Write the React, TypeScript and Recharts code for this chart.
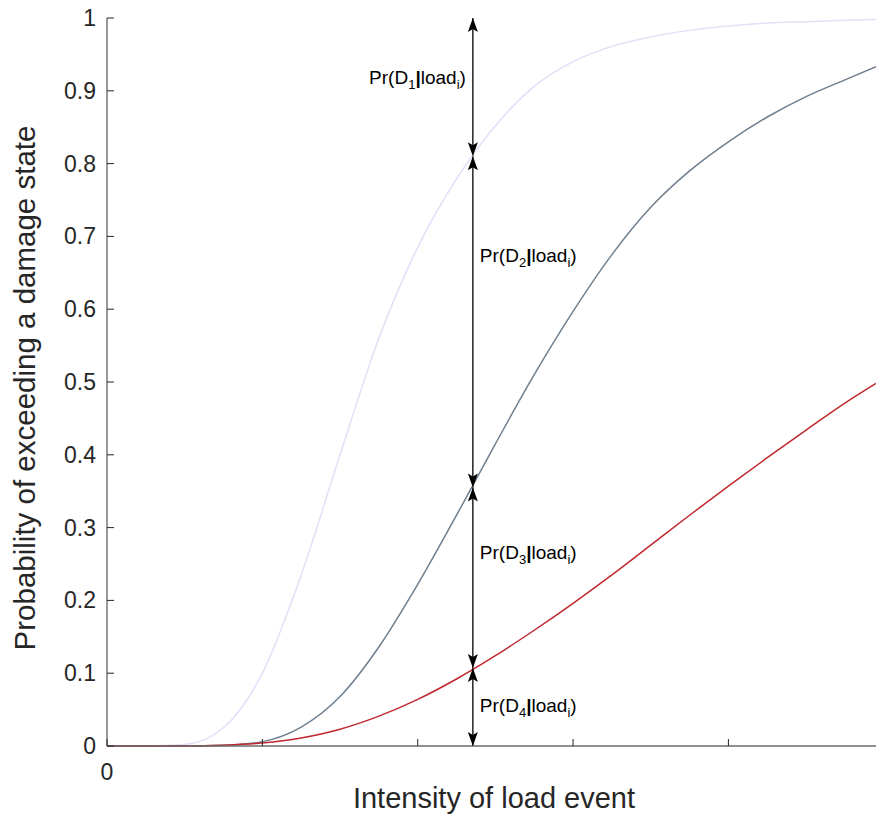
import React from 'react';
import { ComposedChart, Line, Scatter, XAxis, YAxis, ReferenceLine } from 'recharts';

// intensity (in tick units) and exceedance probabilities
const intensity = [0, 0.25, 0.5, 0.75, 1, 1.25, 1.5, 1.75, 2, 2.25, 2.5, 2.75, 3, 3.25, 3.5, 3.75, 4, 4.25, 4.5, 4.75, 4.95];
const pD1 = [0, 0, 0.002, 0.025, 0.1, 0.235, 0.4, 0.56, 0.685, 0.779, 0.852, 0.906, 0.94, 0.961, 0.974, 0.983, 0.989, 0.993, 0.995, 0.997, 0.998];
const pD2 = [0, 0, 0, 0.001, 0.006, 0.026, 0.068, 0.136, 0.222, 0.317, 0.415, 0.51, 0.597, 0.675, 0.74, 0.79, 0.83, 0.864, 0.892, 0.915, 0.933];
const pD3 = [0, 0, 0, 0.001, 0.004, 0.011, 0.023, 0.041, 0.064, 0.092, 0.124, 0.159, 0.196, 0.235, 0.276, 0.317, 0.357, 0.396, 0.434, 0.471, 0.498];

const yTicks = [0, 0.1, 0.2, 0.3, 0.4, 0.5, 0.6, 0.7, 0.8, 0.9, 1];
const xTicks = [0, 1, 2, 3, 4];

// the annotated load level and where the arrows stop
const loadX = 2.355;
const arrowStops = [1, 0.81, 0.355, 0.107, 0];
const labelIdx = ['1', '2', '3', '4'];
const labelY = [0.918, 0.673, 0.265, 0.055];

const FONT = '"Liberation Sans", Arial, Helvetica, sans-serif';

const data = intensity.map((x, i) => ({ x, d1: pD1[i], d2: pD2[i], d3: pD3[i] }));

const heads: { x: number; y: number; dir: string }[] = [];
arrowStops.forEach((s, i) => {
  if (i > 0) heads.push({ x: loadX, y: s, dir: 'down' });
  if (i < arrowStops.length - 1) heads.push({ x: loadX, y: s, dir: 'up' });
});

const labels = labelIdx.map((n, i) => ({ x: loadX, y: labelY[i], n, left: i === 0 }));

const ArrowHead = (props: any) => {
  const { cx, cy, payload } = props;
  const s = payload.dir === 'up' ? 1 : -1;
  const pts = `${cx},${cy} ${cx - 5},${cy + s * 14} ${cx},${cy + s * 11} ${cx + 5},${cy + s * 14}`;
  return <polygon points={pts} fill="#000" />;
};

const PrLabel = (props: any) => {
  const { cx, cy, payload } = props;
  const left = payload.left;
  return (
    <text
      x={left ? cx - 7 : cx + 7}
      y={cy + 6}
      textAnchor={left ? 'end' : 'start'}
      fontSize={19}
      fontFamily={FONT}
      fill="#000"
    >
      Pr(D
      <tspan fontSize={13} dy={5}>{payload.n}</tspan>
      <tspan dy={-5} fontWeight="bold">|</tspan>
      load
      <tspan fontSize={13} dy={5}>i</tspan>
      <tspan dy={-5}>)</tspan>
    </text>
  );
};

const YTick = (props: any) => {
  const { x, y, payload } = props;
  return (
    <g>
      <line x1={x} x2={x + 7} y1={y} y2={y} stroke="#262626" />
      <text x={x - 11} y={y + 8} textAnchor="end" fontSize={23} fontFamily={FONT} fill="#262626">
        {String(payload.value)}
      </text>
    </g>
  );
};

const XTick = (props: any) => {
  const { x, y, payload } = props;
  return (
    <g>
      <line x1={x} x2={x} y1={y} y2={y - 7} stroke="#262626" />
      {payload.value === 0 && (
        <text x={x} y={y + 34} textAnchor="middle" fontSize={23} fontFamily={FONT} fill="#262626">
          0
        </text>
      )}
    </g>
  );
};

const TopTick = (props: any) => {
  const { x, y } = props;
  return <line x1={x} x2={x} y1={y} y2={y + 7} stroke="#262626" />;
};

export default function App() {
  return (
    <div style={{ position: 'absolute', left: 0, top: 0, width: 876, height: 814, background: '#fff' }}>
      <ComposedChart
        width={876}
        height={814}
        data={data}
        margin={{ top: 18, right: 0, bottom: 38, left: 47 }}
        style={{ fontFamily: FONT }}
      >
        <XAxis
          dataKey="x"
          type="number"
          domain={[0, 4.95]}
          ticks={xTicks}
          allowDataOverflow
          height={30}
          tickSize={0}
          tickMargin={0}
          tickLine={false}
          tick={<XTick />}
          axisLine={{ stroke: '#6b6b6b', strokeWidth: 1.5 }}
        />
        <XAxis
          xAxisId="top"
          orientation="top"
          type="number"
          domain={[0, 4.95]}
          ticks={[1, 2, 3, 4]}
          allowDataOverflow
          height={0}
          tickSize={0}
          tickMargin={0}
          tickLine={false}
          tick={<TopTick />}
          axisLine={{ stroke: '#333', strokeWidth: 1 }}
        />
        <YAxis
          type="number"
          domain={[0, 1]}
          ticks={yTicks}
          width={60}
          tickSize={0}
          tickMargin={0}
          tickLine={false}
          tick={<YTick />}
          axisLine={{ stroke: '#333', strokeWidth: 1 }}
        />
        <ReferenceLine
          segment={[{ x: loadX, y: 0 }, { x: loadX, y: 1 }]}
          stroke="#000"
          strokeWidth={1.3}
        />
        <Line type="monotone" dataKey="d1" stroke="#E0E0F8" strokeWidth={1.5} dot={false} isAnimationActive={false} />
        <Line type="monotone" dataKey="d2" stroke="#6F7F8E" strokeWidth={1.5} dot={false} isAnimationActive={false} />
        <Line type="monotone" dataKey="d3" stroke="#C0282D" strokeWidth={1.5} dot={false} isAnimationActive={false} />
        <Scatter data={heads} dataKey="y" shape={<ArrowHead />} isAnimationActive={false} />
        <Scatter data={labels} dataKey="y" shape={<PrLabel />} isAnimationActive={false} />
      </ComposedChart>
      <svg
        width={876}
        height={814}
        style={{ position: 'absolute', left: 0, top: 0, pointerEvents: 'none' }}
      >
        <text x={494} y={808} textAnchor="middle" fontSize={29} fontFamily={FONT} fill="#262626">
          Intensity of load event
        </text>
        <text
          x={0}
          y={0}
          transform="translate(35 388) rotate(-90)"
          textAnchor="middle"
          fontSize={29.5}
          fontFamily={FONT}
          fill="#262626"
        >
          Probability of exceeding a damage state
        </text>
      </svg>
    </div>
  );
}
